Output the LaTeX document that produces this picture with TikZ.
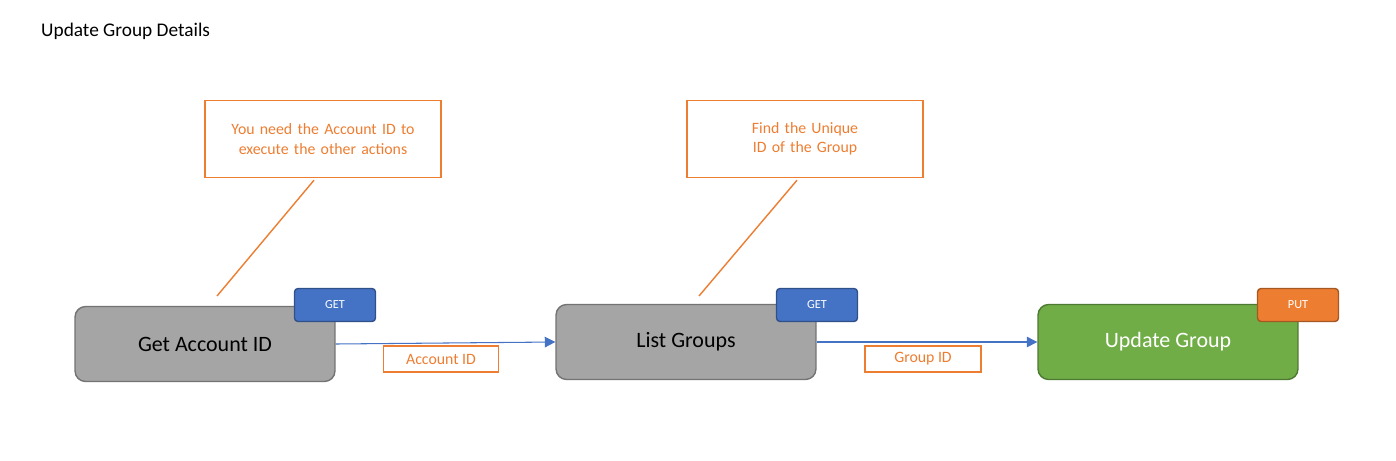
\documentclass[tikz,border=0pt]{standalone}
\usepackage{fontspec}
\setmainfont{Carlito}
\usetikzlibrary{arrows.meta}
\definecolor{boxgray}{HTML}{A5A5A5}
\definecolor{badgeblue}{HTML}{4472C4}
\definecolor{badgeorange}{HTML}{ED7D31}
\definecolor{stepgreen}{HTML}{70AD47}
\tikzset{
  stepbox/.style={draw=black!55, rounded corners=6pt, minimum width=5.2cm, minimum height=1.5cm, font=\fontsize{12.5}{14}\selectfont, line width=0.8pt},
  badge/.style={draw=badgeblue!70!black, fill=badgeblue, text=white, rounded corners=2pt, minimum width=1.62cm, minimum height=0.66cm, font=\fontsize{7}{8}\selectfont, line width=0.8pt},
  note/.style={draw=badgeorange, text=badgeorange, line width=0.8pt, align=center, font=\fontsize{9}{11}\selectfont},
  flow/.style={badgeblue, line width=0.6pt, -{Triangle[length=6pt,width=6pt]}}
}
\begin{document}
\begin{tikzpicture}[x=0.02cm,y=-0.02cm]
  \useasboundingbox (0,0) rectangle (1396,460);
  \node[anchor=west, font=\fontsize{11}{13}\selectfont] (title) at (35,31) {Update Group Details};
  % Schritte
  \node[stepbox, fill=boxgray] (acct) at (205,344) {Get Account ID};
  \node[stepbox, fill=boxgray] (list) at (686,342) {List Groups};
  \node[stepbox, fill=stepgreen, draw=stepgreen!70!black, text=white] (upd) at (1168,342) {Update Group};
  % Methoden
  \node[badge] (get1) at (335,305) {GET};
  \node[badge] (get2) at (817,305) {GET};
  \node[badge, fill=badgeorange, draw=badgeorange!70!black] (put) at (1298,305) {PUT};
  % Pfeile
  \draw[flow] (acct.east) -- (list.west);
  \draw[flow] (list.east) -- (upd.west);
  \node[note, minimum width=2.3cm, minimum height=0.52cm] (lblacct) at (441,359) {Account ID};
  \node[note, minimum width=2.32cm, minimum height=0.52cm] (lblgrp) at (923,359) {Group ID};
  % Hinweise
  \node[note, minimum width=4.72cm, minimum height=1.54cm, text width=4.3cm] (hint1) at (323,139) {You need the Account ID to execute the other actions};
  \node[note, minimum width=4.72cm, minimum height=1.54cm, text width=4.3cm] (hint2) at (805,139) {Find the Unique ID of the Group};
  \coordinate (tip1) at (217,296);
  \coordinate (tip2) at (699,296);
  \draw[badgeorange, line width=0.8pt] (hint1.south)++(-9,2) -- (tip1);
  \draw[badgeorange, line width=0.8pt] (hint2.south)++(-8,2) -- (tip2);
\end{tikzpicture}
\end{document}
